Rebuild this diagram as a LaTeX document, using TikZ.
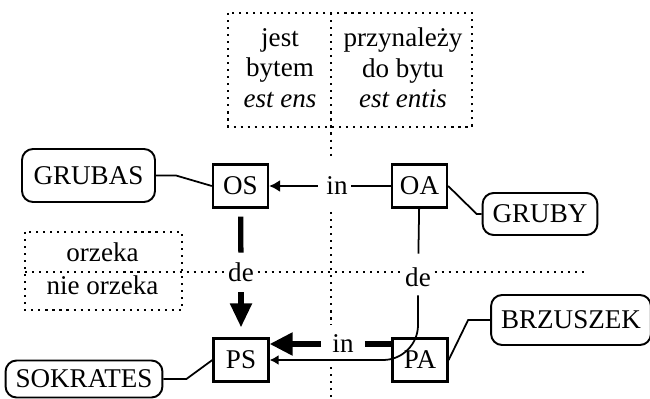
\documentclass[tikz,border=0pt]{standalone}
\usepackage{fontspec}
\setmainfont{Liberation Serif}
\usetikzlibrary{arrows.meta}
\begin{document}
\begin{tikzpicture}[font=\fontsize{15.4}{17.4}\selectfont]
\tikzstyle{box}=[draw,line width=1.3pt,minimum width=1.1cm,minimum height=0.86cm,inner sep=0pt]
\tikzstyle{tag}=[draw,line width=1.1pt,rounded corners=0.22cm,inner xsep=0.2cm,inner ysep=0pt]
\tikzstyle{lbl}=[inner sep=2pt]
\tikzstyle{dots}=[line width=1.2pt,dash pattern=on 1.2pt off 2.8pt]
\tikzstyle{link}=[line width=1pt]
\tikzstyle{heavy}=[line width=3pt]
\useasboundingbox (0,0) rectangle (13,-7.98);
\node[box](os) at (4.81,-3.72) {OS};
\node[box](oa) at (8.39,-3.72) {OA};
\node[box](ps) at (4.82,-7.2) {PS};
\node[box](pa) at (8.4,-7.2) {PA};
\node[tag,minimum width=2.66cm,minimum height=1.06cm](grubas) at (1.77,-3.51) {GRUBAS};
\node[tag,minimum width=2.28cm,minimum height=0.84cm](gruby) at (10.8,-4.28) {GRUBY};
\node[tag,minimum width=3.16cm,minimum height=1cm](brzuszek) at (11.42,-6.4) {BRZUSZEK};
\node[tag,minimum width=3.04cm,minimum height=0.74cm](sokrates) at (1.68,-7.58) {SOKRATES};
\node[lbl](in1) at (6.74,-3.72) {in};
\node[lbl](in2) at (6.86,-6.88) {in};
\node[lbl](de1) at (4.82,-5.44) {de};
\node[lbl](de2) at (8.36,-5.54) {de};
\node[align=center](bytem) at (5.6,-1.36) {jest\\bytem\\\textit{est ens}};
\node[align=center](bytu) at (8.06,-1.36) {przynależy\\do bytu\\\textit{est entis}};
\node[lbl](orz) at (2.05,-5.04) {orzeka};
\node[lbl](nieorz) at (2.05,-5.7) {nie orzeka};
\draw[dots] (4.56,-0.26) rectangle (9.44,-2.54);
\draw[dots] (0.5,-4.64) rectangle (3.64,-6.2);
\draw[dots] (6.62,-0.26) -- (6.62,-3.2);
\draw[dots] (6.62,-4.24) -- (6.62,-6.5);
\draw[dots] (6.62,-7.34) -- (6.62,-7.98);
\draw[dots] (0.5,-5.44) -- (de1.west);
\draw[dots] (de1.east) -- (de2.west |- de1.east);
\draw[dots] (de2.east |- de1.east) -- (11.74,-5.44);
\draw[link] (grubas.east) -- ++(0.4,0) -- (os.west);
\draw[link] (oa.east) -- ([xshift=-0.1cm]gruby.west) -- (gruby.west);
\draw[link] (pa.east) -- ([xshift=-0.44cm]brzuszek.west) -- (brzuszek.west);
\draw[link] (sokrates.east) -- ++(0.46,0) -- (ps.west);
\draw[link] (oa) -- (in1);
\draw[link,-{Latex[length=0.22cm,width=0.24cm]},shorten <=0.1cm] (in1) -- (os);
\draw[link,shorten >=0.2cm] (oa) -- (de2);
\draw[link,-{Latex[length=0.18cm,width=0.2cm]},rounded corners=0.7cm,shorten <=0.1cm] (de2) |- (ps.east);
\draw[heavy,shorten <=0.16cm,shorten >=0.12cm] (os) -- (de1);
\draw[heavy,-{Triangle[length=0.48cm,width=0.42cm]},shorten <=0.14cm,shorten >=0.2cm] (de1) -- (ps);
\draw[heavy,shorten <=0.15cm] (in2) -- (in2 -| pa.west);
\draw[heavy,-{Triangle[length=0.46cm,width=0.44cm]},shorten <=0.15cm] (in2) -- (in2 -| ps.east);
\end{tikzpicture}
\end{document}
